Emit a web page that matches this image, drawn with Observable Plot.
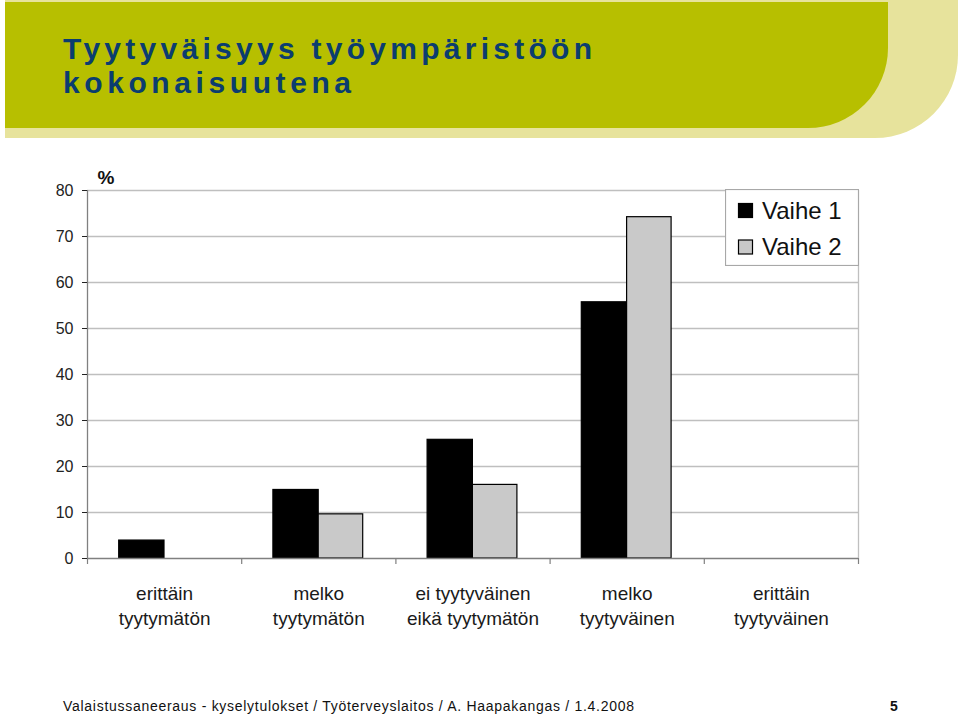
<!DOCTYPE html>
<html><head><meta charset="utf-8">
<script src="https://cdn.jsdelivr.net/npm/d3@7"></script>
<script src="https://cdn.jsdelivr.net/npm/@observablehq/plot@0.6"></script>
<style>
html,body{margin:0;padding:0;background:#fff;}
#page{position:relative;width:960px;height:716px;overflow:hidden;font-family:"Liberation Sans",Arial,sans-serif;}
#page > svg, #chart{position:absolute;}
</style></head><body><div id="page">
<svg id="header" width="960" height="145" style="left:0;top:0">
  <path d="M5,0H958V55A83,83 0 0 1 875,138H5Z" fill="#e7e39c"/>
  <path d="M5,2H888V48A80,80 0 0 1 808,128H5Z" fill="#b7bf00"/>
  <text x="63" y="59" textLength="529" lengthAdjust="spacing" font-family="Liberation Sans, Arial, sans-serif" font-weight="bold" font-size="30" fill="#0b3d6f">Tyytyväisyys työympäristöön</text>
  <text x="63" y="93" textLength="288" lengthAdjust="spacing" font-family="Liberation Sans, Arial, sans-serif" font-weight="bold" font-size="30" fill="#0b3d6f">kokonaisuutena</text>
</svg>
<div id="chart" style="left:0;top:150px"></div>
<svg id="legend" width="134" height="77" style="left:725px;top:189px"></svg>
<svg id="footer" width="960" height="30" style="left:0;top:690px">
  <text x="63" y="21" textLength="571" lengthAdjust="spacing" font-family="Liberation Sans, Arial, sans-serif" font-size="14" fill="#111">Valaistussaneeraus - kyselytulokset / Työterveyslaitos / A. Haapakangas / 1.4.2008</text>
  <text x="890" y="21" font-family="Liberation Sans, Arial, sans-serif" font-size="14" font-weight="bold" fill="#111">5</text>
</svg>
</div>
<script>
const categories = ["erittäin tyytymätön", "melko tyytymätön", "ei tyytyväinen eikä tyytymätön", "melko tyytyväinen", "erittäin tyytyväinen"];
const categoryLabels = ["erittäin\ntyytymätön", "melko\ntyytymätön", "ei tyytyväinen\neikä tyytymätön", "melko\ntyytyväinen", "erittäin\ntyytyväinen"];
const series = ["Vaihe 1", "Vaihe 2"];
const vaihe1 = [3.9, 14.9, 25.8, 55.7, 0];
const vaihe2 = [0, 9.6, 16.0, 74.2, 0];
const yTicks = [0, 10, 20, 30, 40, 50, 60, 70, 80];
const boundaries = [0, 1, 2, 3, 4, 5];
const seriesFill = ["#000000", "#c9c9c9"];

const rows = [];
categories.forEach((c, i) => {
  rows.push({i, category: c, series: series[0], value: vaihe1[i]});
  rows.push({i, category: c, series: series[1], value: vaihe2[i]});
});
const labelRows = categories.map((c, i) => ({i, label: categoryLabels[i]}));

const chart = Plot.plot({
  width: 960, height: 500,
  marginTop: 40, marginBottom: 92, marginLeft: 87, marginRight: 102,
  style: {fontFamily: "Liberation Sans, Arial, sans-serif", background: "transparent", color: "#1a1a1a"},
  x: {type: "linear", domain: [0, categories.length], axis: null},
  y: {domain: [0, 80]},
  marks: [
    Plot.ruleY(yTicks.filter(t => t > 0), {stroke: "#bfbfbf", strokeWidth: 1.3}),
    Plot.ruleX([categories.length], {stroke: "#bfbfbf", strokeWidth: 1.3}),
    Plot.rect(rows.filter(d => d.series === series[0] && d.value > 0), {
      x1: "i", x2: d => d.i + 1, y1: 0, y2: "value",
      insetLeft: 31.7, insetRight: 77.2, fill: seriesFill[0], stroke: "#000", strokeWidth: 1.2
    }),
    Plot.rect(rows.filter(d => d.series === series[1] && d.value > 0), {
      x1: "i", x2: d => d.i + 1, y1: 0, y2: "value",
      insetLeft: 77, insetRight: 32.7, fill: seriesFill[1], stroke: "#000", strokeWidth: 1.2
    }),
    Plot.ruleX(boundaries, {y1: 0, y2: -1.3, stroke: "#808080", strokeWidth: 1.2}),
    Plot.ruleX([0], {stroke: "#808080", strokeWidth: 1.3}),
    Plot.ruleY([0], {stroke: "#808080", strokeWidth: 1.3}),
    Plot.axisY({ticks: yTicks, tickSize: 5, tickPadding: 9, fontSize: 16, label: null, color: "#222"}),
    Plot.text(["%"], {frameAnchor: "top-left", dx: 10, dy: -7, textAnchor: "start", lineAnchor: "bottom", fontWeight: "bold", fontSize: 19, fill: "#111"}),
    Plot.text(labelRows, {x: d => d.i + 0.5, y: 0, text: "label", lineAnchor: "top", dy: 24, fontSize: 19, lineHeight: 1.32, fill: "#1a1a1a"})
  ]
});
document.getElementById("chart").appendChild(chart);

// legend
const lg = d3.select("#legend");
lg.append("rect").attr("x", 0.5).attr("y", 0.5).attr("width", 133).attr("height", 76)
  .attr("fill", "#fff").attr("stroke", "#a8a8a8").attr("stroke-width", 1.2);
series.forEach((s, k) => {
  const y0 = 14 + k * 36.5;
  lg.append("rect").attr("x", 13.5).attr("y", y0 + 0.5).attr("width", 14).attr("height", 14)
    .attr("fill", seriesFill[k]).attr("stroke", "#000").attr("stroke-width", 1.2);
  lg.append("text").attr("x", 37).attr("y", y0 + 15.5).text(s)
    .attr("font-family", "Liberation Sans, Arial, sans-serif").attr("font-size", 24).attr("fill", "#111");
});
</script>
</body></html>
